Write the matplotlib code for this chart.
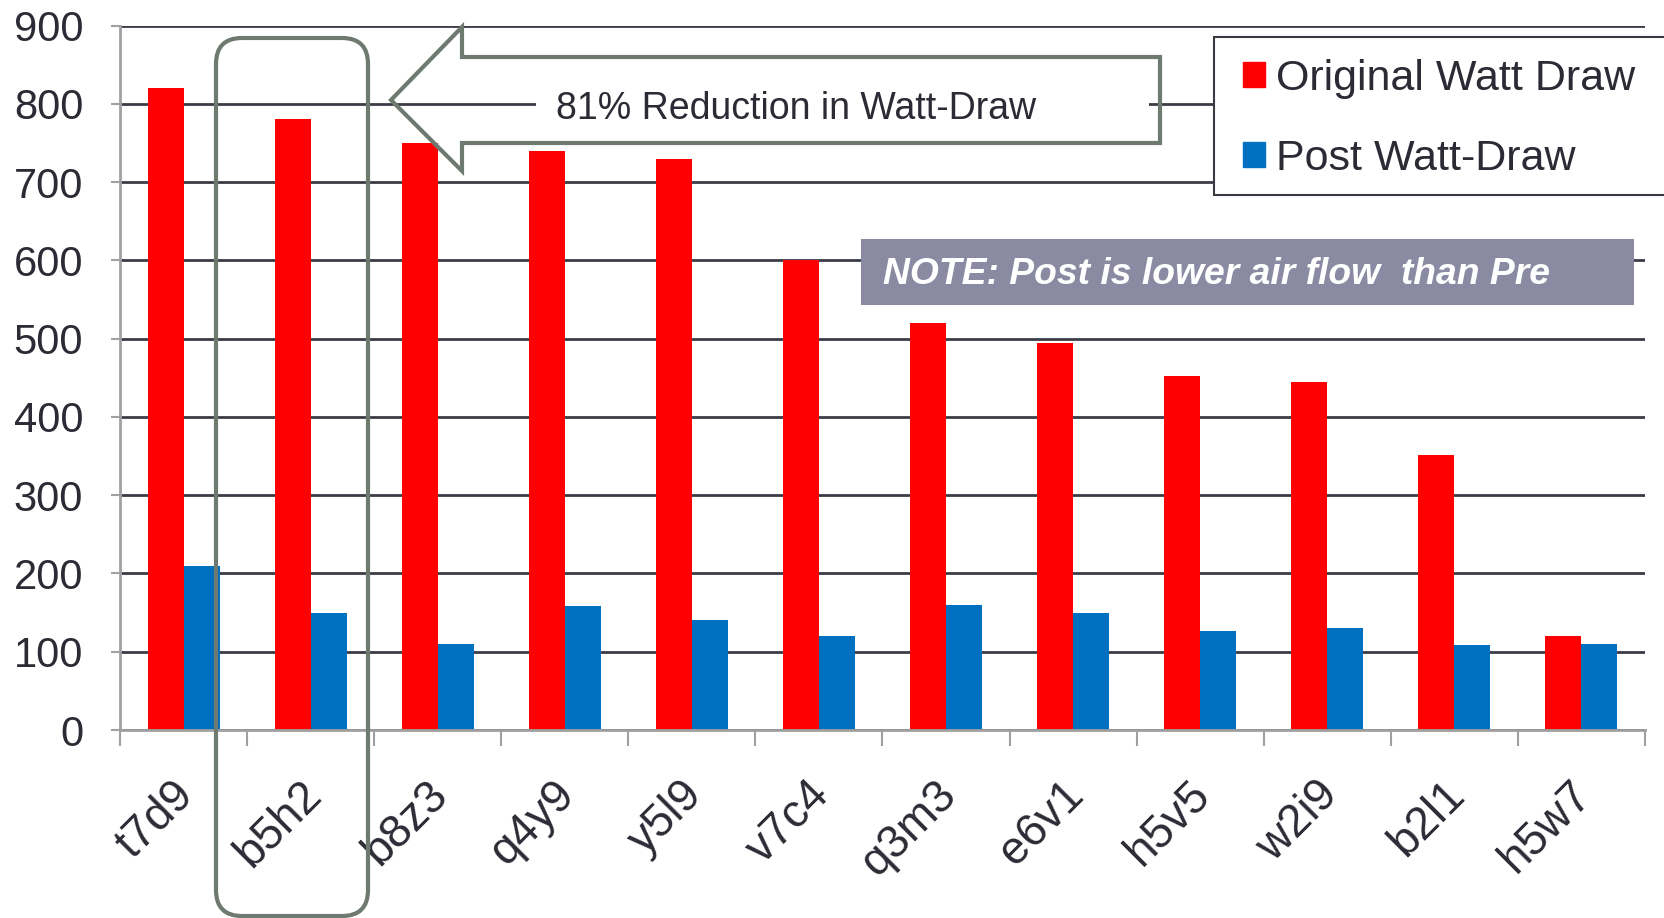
"""
Watt draw before and after, by unit, with the callout shapes from the slide.
"""

import numpy as np
import matplotlib

matplotlib.use("Agg")
import matplotlib.pyplot as plt
from matplotlib.patches import Patch, Polygon, Rectangle, FancyBboxPatch
from matplotlib.transforms import IdentityTransform, ScaledTranslation

# Data
units = ["t7d9", "b5h2", "b8z3", "q4y9", "y5l9", "v7c4",
         "q3m3", "e6v1", "h5v5", "w2i9", "b2l1", "h5w7"]
original_watts = [820, 780, 750, 740, 730, 600, 520, 495, 452, 445, 351, 120]
post_watts = [210, 150, 110, 158, 140, 120, 160, 150, 126, 130, 109, 110]
y_ticks = [0, 100, 200, 300, 400, 500, 600, 700, 800, 900]

RED = "#ff0000"
BLUE = "#0070c0"
TEXT = "#2b2b36"
OUTLINE = "#6e7a6f"
GRID = "#3c3c48"
SPINE = "#a0a0a0"

W, H = 1664, 918
plt.rcParams["font.family"] = ["Liberation Sans", "DejaVu Sans"]

fig = plt.figure(figsize=(W / 100, H / 100), dpi=100)
ax = fig.add_axes([120 / W, 1 - 730 / H, (1645 - 120) / W, (730 - 25.5) / H])

x = np.arange(len(units))
bar_w = 0.283
ax.bar(x - bar_w / 2, original_watts, bar_w, color=RED, zorder=2,
       label="Original Watt Draw")
ax.bar(x + bar_w / 2, post_watts, bar_w, color=BLUE, zorder=2,
       label="Post Watt-Draw")

ax.set_xlim(-0.5, len(units) - 0.5)
ax.set_ylim(0, 900)
ax.set_yticks(y_ticks)
ax.tick_params(axis="y", labelsize=30, labelcolor=TEXT, color=SPINE,
               length=6.5, width=1.5, pad=20)
ax.yaxis.grid(True, color=GRID, linewidth=2, zorder=0)
ax.set_axisbelow(True)

# category labels at centres, tick marks at the boundaries
ax.set_xticks(x)
ax.set_xticklabels(units, fontsize=33, color=TEXT, rotation=45,
                   ha="right", va="baseline", rotation_mode="anchor")
ax.set_xticks(np.arange(len(units) + 1) - 0.5, minor=True)
ax.tick_params(axis="x", which="major", length=0, pad=48)
ax.tick_params(axis="x", which="minor", length=11.5, width=1.5, color=SPINE)
shift = ScaledTranslation(12 / 100, 0, fig.dpi_scale_trans)
for lbl in ax.get_xticklabels():
    lbl.set_transform(lbl.get_transform() + shift)

for side in ["top", "right"]:
    ax.spines[side].set_visible(False)
for side in ["left", "bottom"]:
    ax.spines[side].set_color(SPINE)
    ax.spines[side].set_linewidth(2)

px = IdentityTransform()


def flip(pts):
    # pixel coords measured from the top -> display coords
    return [(a, H - b) for a, b in pts]


# rounded box round the b5h2 column
fig.patches.append(FancyBboxPatch(
    (216, H - 916), 368 - 216, 916 - 38,
    boxstyle="round,pad=0,rounding_size=26",
    transform=px, fill=False, edgecolor=OUTLINE, linewidth=3, zorder=5))

# white strip behind the arrow text, then the arrow outline
fig.patches.append(Rectangle((536, H - 123), 1149 - 536, 40, transform=px,
                             facecolor="white", edgecolor="none", zorder=4))
arrow_pts = flip([(391, 100), (462, 27), (462, 57), (1160, 57), (1160, 143),
                  (462, 143), (462, 171)])
fig.patches.append(Polygon(arrow_pts, closed=True, fill=False,
                           edgecolor=OUTLINE, linewidth=3,
                           joinstyle="miter", transform=px, zorder=5))
fig.text(556 / W, 1 - 109 / H, "81% Reduction in Watt-Draw", fontsize=27,
         color=TEXT, ha="left", va="center", zorder=6)

# note banner
fig.patches.append(Rectangle((861, H - 305), 1634 - 861, 305 - 239,
                             transform=px, facecolor="#8a8aa3",
                             edgecolor="none", zorder=4))
fig.text(883 / W, 1 - 274 / H, "NOTE: Post is lower air flow  than Pre",
         fontsize=26.8, color="white", fontweight="bold", fontstyle="italic",
         ha="left", va="center", zorder=6)

# legend box runs off the right edge
fig.patches.append(Rectangle((1214, H - 195), 600, 195 - 37, transform=px,
                             facecolor="white", edgecolor="#3a3a45",
                             linewidth=1.5, zorder=4))
handles = [Patch(color=RED), Patch(color=BLUE)]
fig.legend(handles, ["Original Watt Draw", "Post Watt-Draw"],
           loc="upper left", bbox_to_anchor=(1243 / W, 1 - 59 / H),
           frameon=False, fontsize=31, labelcolor=TEXT,
           handlelength=0.51, handleheight=0.51, handletextpad=0.25,
           labelspacing=0.92, borderaxespad=0, borderpad=0).set_zorder(7)

fig.savefig("out.png", dpi=100)
